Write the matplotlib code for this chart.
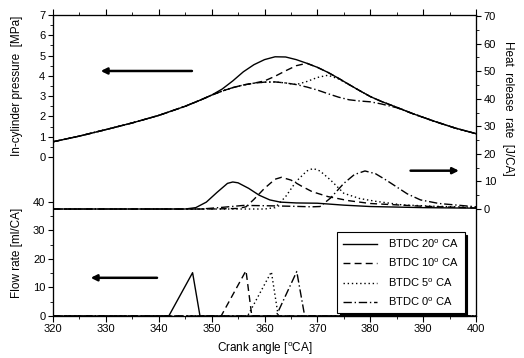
import matplotlib
matplotlib.use('Agg')
import matplotlib.pyplot as plt
from matplotlib.ticker import MultipleLocator

plt.rcParams['font.family'] = ['Liberation Sans', 'DejaVu Sans']
plt.rcParams['mathtext.fontset'] = 'custom'
plt.rcParams['mathtext.rm'] = 'Liberation Sans'
plt.rcParams['font.size'] = 8

# 气缸压力 (MPa)
p_crank = [320, 325, 330, 335, 340, 345, 348, 350, 352, 354, 356, 358, 360, 362,
           364, 366, 368, 370, 372, 374, 376, 378, 380, 382, 385, 388, 392, 396, 400]
p_20 = [0.75, 1.03, 1.35, 1.68, 2.05, 2.5, 2.82, 3.05, 3.35, 3.75, 4.2, 4.55, 4.8, 4.94,
        4.93, 4.8, 4.62, 4.42, 4.17, 3.88, 3.57, 3.27, 2.98, 2.75, 2.45, 2.14, 1.77, 1.43, 1.15]
p_10 = [0.75, 1.03, 1.35, 1.68, 2.05, 2.5, 2.82, 3.05, 3.25, 3.42, 3.55, 3.64, 3.75, 3.98,
        4.25, 4.5, 4.62, 4.42, 4.17, 3.88, 3.57, 3.27, 2.98, 2.75, 2.45, 2.14, 1.77, 1.43, 1.15]
p_5 = [0.75, 1.03, 1.35, 1.68, 2.05, 2.5, 2.82, 3.05, 3.25, 3.42, 3.55, 3.64, 3.69, 3.7,
       3.65, 3.57, 3.72, 3.92, 4.03, 3.85, 3.57, 3.27, 2.98, 2.75, 2.45, 2.14, 1.77, 1.43, 1.15]
p_0 = [0.75, 1.03, 1.35, 1.68, 2.05, 2.5, 2.82, 3.05, 3.25, 3.42, 3.55, 3.64, 3.69, 3.7,
       3.65, 3.57, 3.45, 3.3, 3.12, 2.95, 2.82, 2.76, 2.72, 2.62, 2.43, 2.14, 1.77, 1.43, 1.15]

# 放热率 (J/CA)
hr_20_crank = [320, 345, 347, 349, 351, 353, 354, 355, 357, 359, 361, 363, 366, 370, 375, 380, 390, 400]
hr_20 = [0, 0, 0.5, 2.5, 6, 9.3, 9.8, 9.5, 7.5, 5, 3.3, 2.5, 2.2, 2.1, 1.4, 0.9, 0.5, 0.3]
hr_10_crank = [320, 350, 355, 356.5, 358, 360, 362, 363.2, 365, 367, 369, 372, 376, 380, 390, 400]
hr_10 = [0, 0, 0.2, 0.8, 3.5, 7.5, 10.8, 11.5, 10.5, 8.3, 6.3, 4.5, 3, 2, 1, 0.4]
hr_5_crank = [320, 360, 362, 364, 366, 368, 369.2, 370.5, 372.5, 375, 378, 381, 386, 392, 400]
hr_5 = [0, 0, 0.5, 4.5, 10, 13.8, 14.7, 13.8, 10.5, 5.7, 3.8, 2.8, 1.5, 1, 0.6]
hr_0_crank = [320, 348, 352, 356, 360, 365, 369, 370.5, 372.5, 375, 377, 379, 381, 383, 385, 387,
              389.5, 393, 400]
hr_0 = [0, 0, 0.6, 1.3, 1.2, 1.0, 0.8, 0.9, 4, 9.3, 12.5, 13.8, 12.8, 10.5, 8, 5.5, 3.3, 2, 0.8]

# 喷油流量 (ml/CA)
fl_20_crank = [320, 341.9, 346.4, 347.8, 400]
fl_20 = [0, 0, 15.2, 0, 0]
fl_10_crank = [320, 351.8, 356.5, 357.6, 400]
fl_10 = [0, 0, 15.9, 0, 0]
fl_5_crank = [320, 356.8, 361.3, 362.6, 400]
fl_5 = [0, 0, 15.5, 0, 0]
fl_0_crank = [320, 362.2, 366.1, 367.6, 400]
fl_0 = [0, 0, 15.6, 0, 0]

labels = ['BTDC 20$^{\\rm o}$ CA', 'BTDC 10$^{\\rm o}$ CA',
          'BTDC 5$^{\\rm o}$ CA', 'BTDC 0$^{\\rm o}$ CA']
styles = ['-', (0, (5, 3)), (0, (1, 2)), (0, (6, 2, 1, 2))]

fig = plt.figure(figsize=(5.24, 3.58), dpi=100)
W, H = 524, 358
pos = [53 / W, (H - 316) / H, (476 - 53) / W, (316 - 15) / H]

# 三个y轴共用同一个绘图区
ax_f = fig.add_axes(pos)
ax_p = fig.add_axes(pos, sharex=ax_f)
ax_p.patch.set_visible(False)
ax_h = ax_f.twinx()

lw = 1.0
for x, y, ls in zip([fl_20_crank, fl_10_crank, fl_5_crank, fl_0_crank],
                    [fl_20, fl_10, fl_5, fl_0], styles):
    ax_f.plot(x, y, color='black', lw=lw, linestyle=ls)
for y, ls, lab in zip([p_20, p_10, p_5, p_0], styles, labels):
    ax_p.plot(p_crank, y, color='black', lw=lw, linestyle=ls, label=lab)
for x, y, ls in zip([hr_20_crank, hr_10_crank, hr_5_crank, hr_0_crank],
                    [hr_20, hr_10, hr_5, hr_0], styles):
    ax_h.plot(x, y, color='black', lw=lw, linestyle=ls)

ax_f.set_xlim(320, 400)
ax_f.set_ylim(0, 105.6)
ax_p.set_ylim(-7.84, 7)
ax_h.set_ylim(-38.8, 70.36)

ax_f.set_xticks(range(320, 401, 10))
ax_f.xaxis.set_minor_locator(MultipleLocator(5))
ax_f.set_yticks(range(0, 41, 10))
ax_f.set_yticks([5, 15, 25, 35], minor=True)
ax_p.set_yticks(range(0, 8))
ax_p.set_yticks([i + 0.5 for i in range(7)], minor=True)
ax_h.set_yticks(range(0, 71, 10))
ax_h.set_yticks(range(5, 70, 10), minor=True)

ax_f.tick_params(axis='x', which='both', direction='out', top=True)
ax_f.tick_params(axis='x', which='major', length=4)
ax_f.tick_params(axis='x', which='minor', length=2.5)
ax_p.tick_params(axis='x', which='both', bottom=False, labelbottom=False)
for a in (ax_f, ax_p, ax_h):
    a.tick_params(axis='y', which='major', length=3.5, width=0.8, pad=2)
    a.tick_params(axis='y', which='minor', length=2, width=0.6)
ax_f.tick_params(axis='x', pad=2)

ax_p.set_ylabel('In-cylinder pressure  [MPa]', fontsize=8.5)
ax_p.yaxis.set_label_coords(-0.07, 0.765)
ax_f.set_ylabel('Flow rate [ml/CA]', fontsize=8.5)
ax_f.yaxis.set_label_coords(-0.07, 0.21)
ax_h.set_ylabel('Heat  release  rate  [J/CA]', rotation=-90, fontsize=8.5)
ax_h.yaxis.set_label_coords(1.09, 0.69)
ax_f.set_xlabel('Crank angle [$^{\\rm o}$CA]', fontsize=8.5)
ax_f.xaxis.set_label_coords(0.5, -0.08)

# 指向对应坐标轴的箭头
arrow = dict(arrowstyle='-|>', lw=1.8, color='black', mutation_scale=9)
ax_p.annotate('', xy=(328.5, 4.24), xytext=(346.8, 4.24), arrowprops=arrow)
ax_h.annotate('', xy=(397.3, 13.9), xytext=(387.1, 13.9), arrowprops=arrow)
ax_f.annotate('', xy=(326.6, 13.4), xytext=(340.2, 13.4), arrowprops=arrow)

leg = ax_p.legend(loc='upper left', bbox_to_anchor=(337 / W, 1 - 232 / H),
                  bbox_transform=fig.transFigure, borderaxespad=0, fancybox=False,
                  shadow={'color': 'black', 'alpha': 1}, edgecolor='black',
                  framealpha=1, handlelength=3.1, labelspacing=0.62,
                  borderpad=0.5, handletextpad=1.0, fontsize=8)
leg.get_frame().set_linewidth(0.8)

fig.savefig('out.png', dpi=100)
